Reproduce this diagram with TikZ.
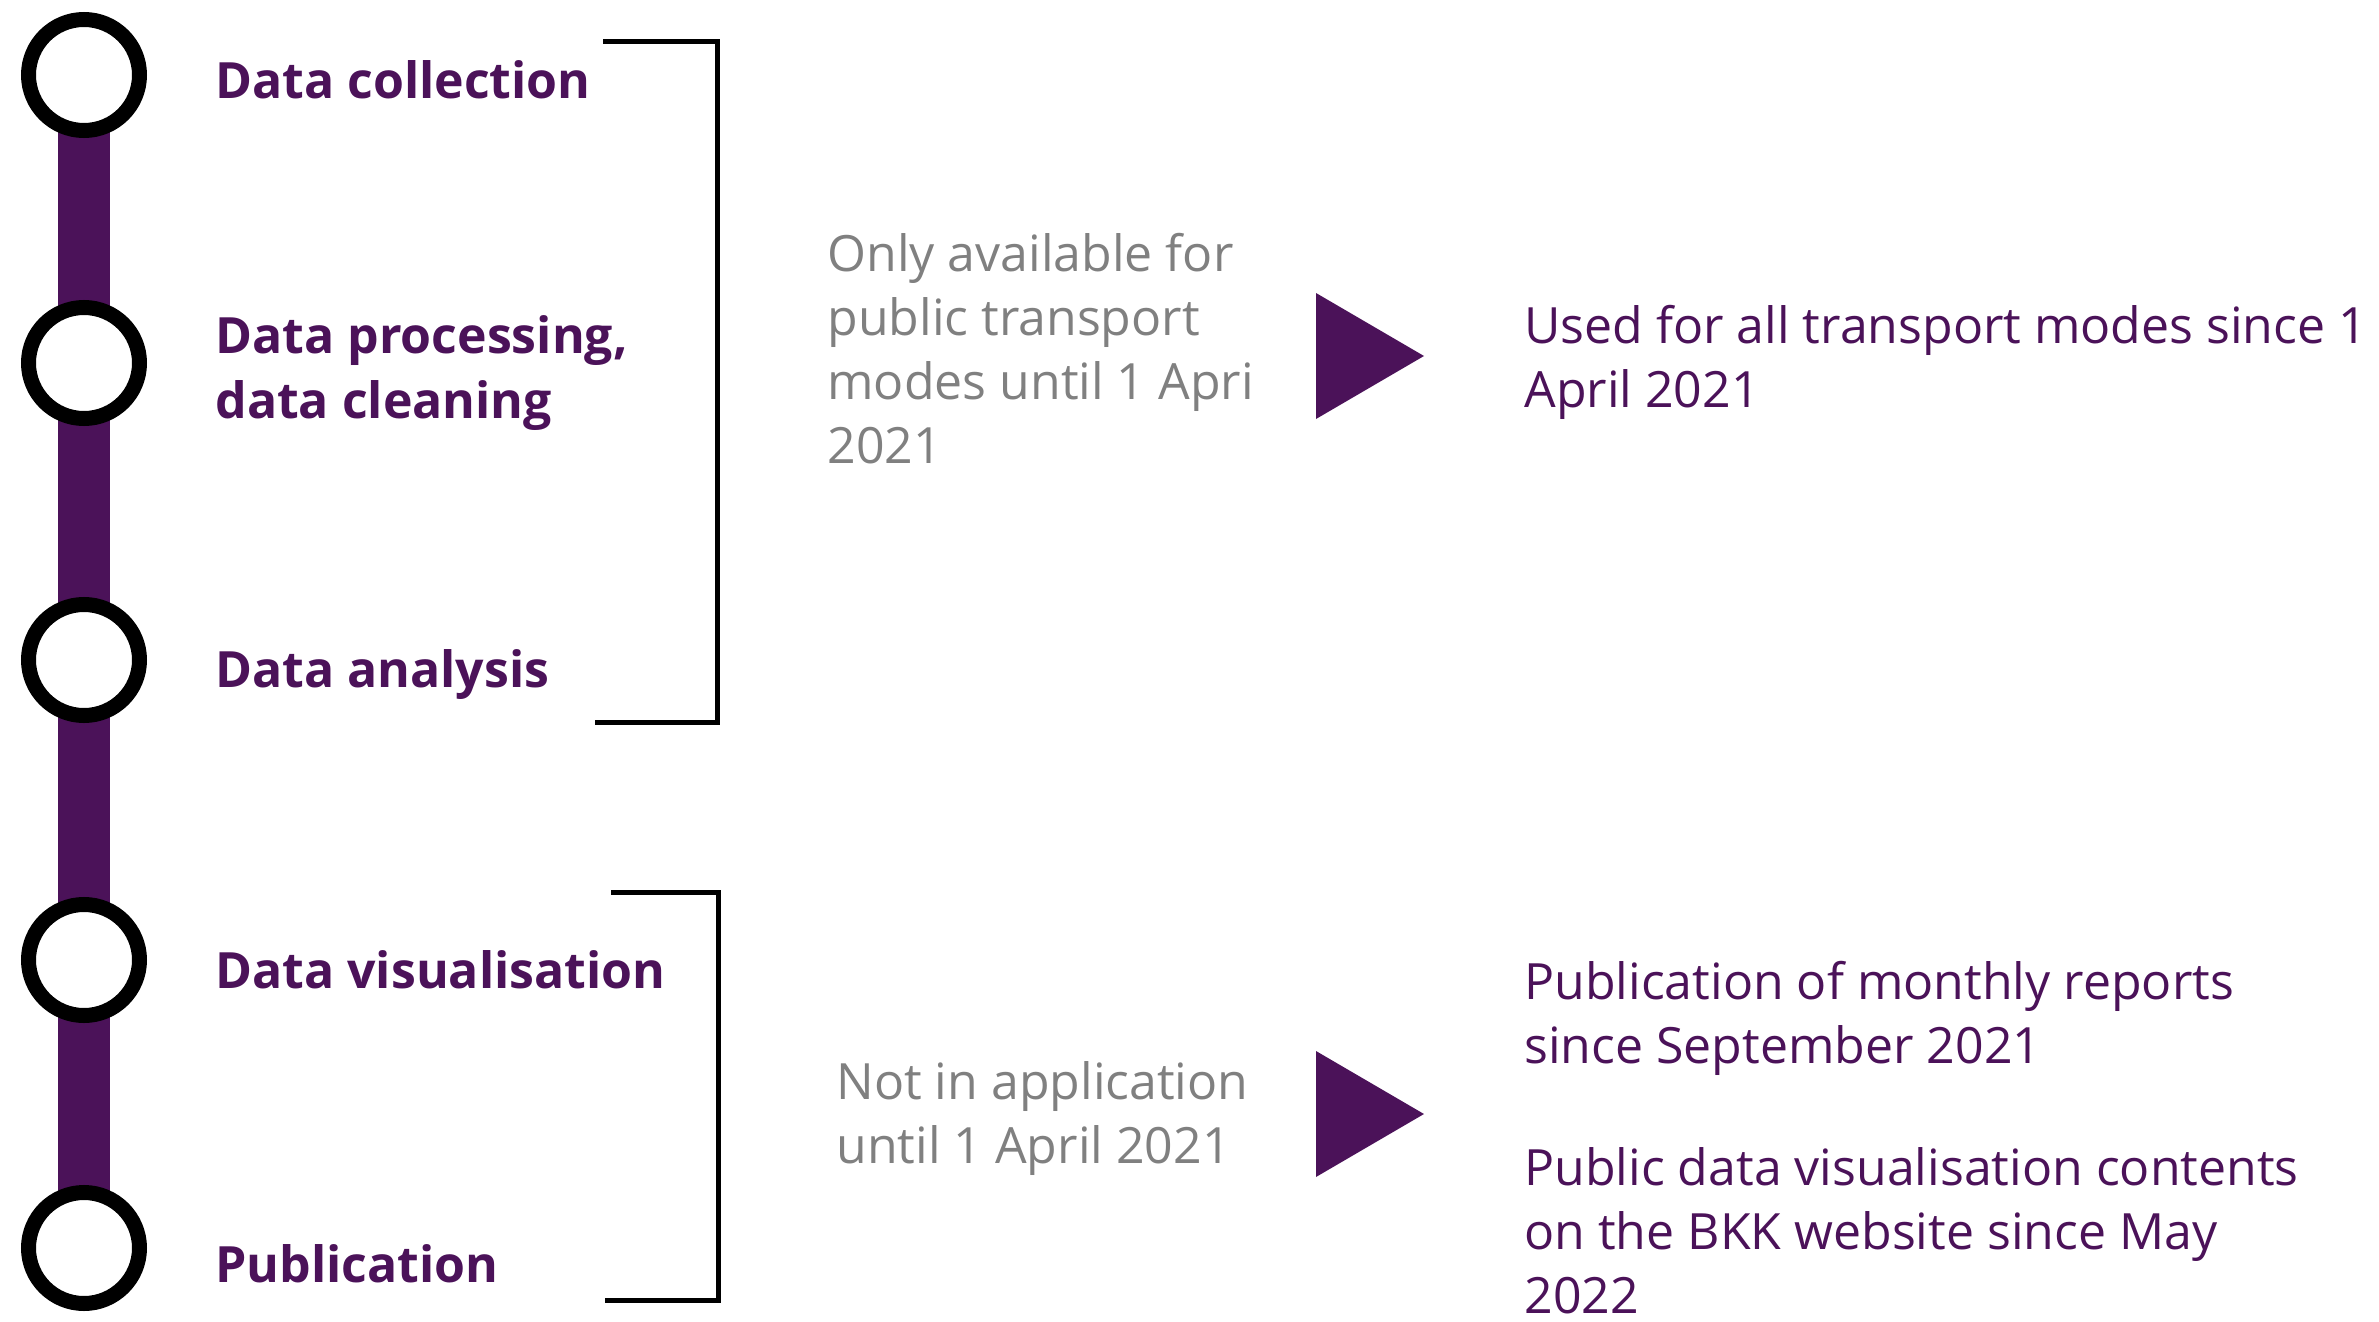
\documentclass[tikz,border=0pt]{standalone}
\usepackage{fontspec}
\setmainfont{Open Sans}
\usetikzlibrary{backgrounds}
\definecolor{bkkpurple}{HTML}{4B1259}
\definecolor{notegray}{HTML}{808080}
\tikzset{
  stagering/.style={shape=circle,draw=black,fill=white,line width=7.5pt,inner sep=0pt,minimum size=55.5pt},
  stagelabel/.style={anchor=base west,inner sep=0pt,text=bkkpurple,align=left,font=\fontsize{25}{32.5}\selectfont\bfseries},
  notetext/.style={anchor=base west,inner sep=0pt,text=notegray,align=left,font=\fontsize{25}{32}\selectfont},
  resulttext/.style={anchor=base west,inner sep=0pt,text=bkkpurple,align=left,font=\fontsize{25}{32}\selectfont},
  bracketline/.style={draw=black,line width=2.5pt}
}
\newcommand{\stage}[5]{ \node[stagering] (#1) at ( 84 , #2 ) {}; \node[stagelabel] (#3) at ( 215 , #4 ) {#5};}
\newcommand{\bracket}[5]{ \draw[bracketline] ( #1 , #3 ) -- ( #2 , #3 ) -- ( #2 , #4 ) -- ( #5 , #4 );}
\newcommand{\pointer}[2]{ \fill[bkkpurple] ( 1316 , #1 ) -- ( 1424 , {(#1+#2)/2} ) -- ( 1316 , #2 ) -- cycle;}

\begin{document}
\begin{tikzpicture}[x=0.5pt,y=-0.5pt]
            \useasboundingbox ( 0 , 0 ) rectangle ( 2379 , 1322 );
            % stages (text placed at the baseline of its last line)
            \stage{s1}{75}{l1}{99}{Data collection}
            \stage{s2}{363}{l2}{418}{Data processing,\\data cleaning}
            \stage{s3}{660}{l3}{687}{Data analysis}
            \stage{s4}{960}{l4}{988}{Data visualisation}
            \stage{s5}{1248}{l5}{1282}{Publication}
            \begin{scope}[on background layer]
              \draw[bkkpurple,line width=26pt] (s1.center) -- (s5.center);
            \end{scope}

            % brackets
            \bracket{603}{717}{42}{722}{595}
            \bracket{611}{718}{892}{1300}{605}

            % upper group
            \node[notetext] (n1) at ( 827 , 463 ) {Only available for\\public transport\\modes until 1 Apri\\2021};
            \pointer{293}{419}
            \node[resulttext] (r1) at ( 1524 , 407 ) {Used for all transport modes since 1\\April 2021};

            % lower group
            \node[notetext] (n2) at ( 836 , 1163 ) {Not in application\\until 1 April 2021};
            \pointer{1051}{1177}
            \node[resulttext] (r2) at ( 1524 , 1063 ) {Publication of monthly reports\\since September 2021};
            \node[resulttext] (r3) at ( 1524 , 1313 ) {Public data visualisation contents\\on the BKK website since May\\2022};
\end{tikzpicture}
\end{document}
